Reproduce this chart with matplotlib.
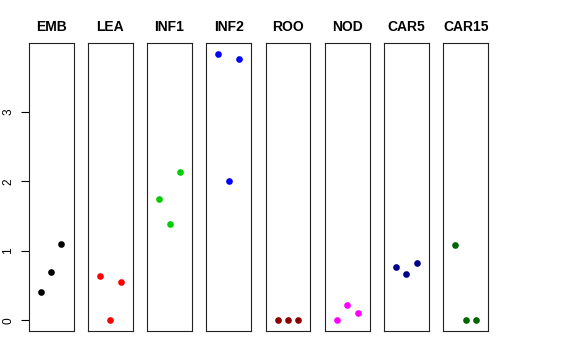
import matplotlib
matplotlib.use("Agg")
import matplotlib.pyplot as plt

groups = ["EMB", "LEA", "INF1", "INF2", "ROO", "NOD", "CAR5", "CAR15"]
colors = ["black", "#FF0000", "#00CD00", "#0000FF", "#8B0000", "#FF00FF", "#00008B", "#006400"]
xpos = [1, 2, 3]
values = {
    "EMB": [0.41, 0.70, 1.095],
    "LEA": [0.64, 0.0, 0.55],
    "INF1": [1.74, 1.39, 2.13],
    "INF2": [3.83, 2.01, 3.76],
    "ROO": [0.0, 0.0, 0.0],
    "NOD": [0.0, 0.215, 0.10],
    "CAR5": [0.76, 0.67, 0.82],
    "CAR15": [1.085, 0.0, 0.0],
}
yticks = [0, 1, 2, 3]

plt.rcParams['font.family'] = ['Liberation Sans', 'DejaVu Sans']
W, H = 576, 360
fig = plt.figure(figsize=(W / 100, H / 100), dpi=100)

ymax = max(max(v) for v in values.values())
ymin = 0.0
yr = ymax - ymin
left0, step, width = 28.7, 59.23, 44.8
top, bottom = 43.3, 331.0

for i, g in enumerate(groups):
    l = left0 + i * step
    ax = fig.add_axes([l / W, 1 - bottom / H, width / W, (bottom - top) / H])
    ax.plot(xpos, values[g], 'o', color=colors[i], ms=4.8, mew=0)
    ax.set_xlim(0 - 0.16, 4 + 0.16)
    ax.set_ylim(ymin - 0.04 * yr, ymax + 0.04 * yr)
    ax.set_xticks([])
    for s in ax.spines.values():
        s.set_linewidth(0.8)
        s.set_color('#222222')
    if i == 0:
        ax.set_yticks(yticks)
        ax.set_yticklabels([str(t) for t in yticks], rotation=90, va='center', fontsize=8.6)
        ax.tick_params(axis='y', length=5.5, width=0.8, pad=5.0)
    else:
        ax.set_yticks([])
    ax.set_title(g, fontsize=10, fontweight='bold', pad=8.5)

fig.savefig("out.png", dpi=100)
